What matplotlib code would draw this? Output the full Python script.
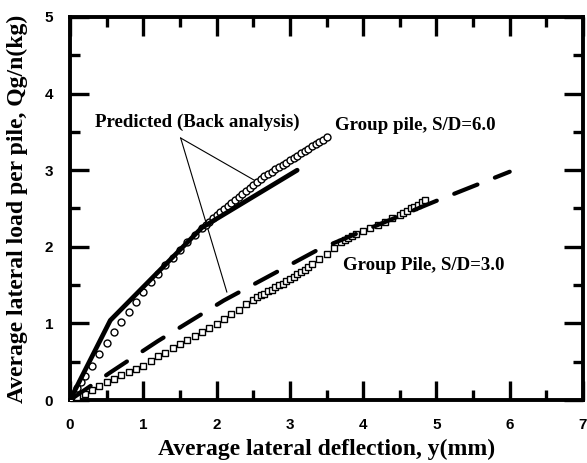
import matplotlib
matplotlib.use("Agg")
import matplotlib.pyplot as plt
from matplotlib.ticker import MultipleLocator

# ---- data ----
sd6_x = [0.0, 0.05, 0.1, 0.15, 0.2, 0.3, 0.4, 0.5, 0.6, 0.7, 0.8, 0.9, 1.0, 1.1,
         1.2, 1.3, 1.4, 1.5, 1.6, 1.7, 1.8, 1.85, 1.9, 1.95, 2.0, 2.05, 2.1, 2.15, 2.2,
         2.25, 2.3, 2.35, 2.4, 2.45, 2.5, 2.55, 2.6, 2.65, 2.7, 2.75, 2.8, 2.85,
         2.9, 2.95, 3.0, 3.05, 3.1, 3.15, 3.2, 3.25, 3.3, 3.35, 3.4, 3.45, 3.5]
sd6_y = [0.0, 0.08, 0.16, 0.24, 0.31, 0.45, 0.6, 0.75, 0.89, 1.02, 1.15, 1.28, 1.41, 1.54,
         1.65, 1.76, 1.86, 1.96, 2.06, 2.15, 2.25, 2.29, 2.33, 2.37, 2.41, 2.45, 2.49, 2.53, 2.57,
         2.61, 2.65, 2.69, 2.73, 2.77, 2.81, 2.85, 2.89, 2.92, 2.95, 2.98, 3.01, 3.04,
         3.07, 3.1, 3.13, 3.16, 3.19, 3.22, 3.25, 3.28, 3.31, 3.34, 3.37, 3.4, 3.43]

sd3_x = [0.0, 0.1, 0.2, 0.3, 0.4, 0.5, 0.6, 0.7, 0.8, 0.9, 1.0, 1.1, 1.2, 1.3, 1.4,
         1.5, 1.6, 1.7, 1.8, 1.9, 2.0, 2.1, 2.2, 2.3, 2.4, 2.5, 2.55, 2.6, 2.65, 2.7,
         2.75, 2.8, 2.85, 2.9, 2.95, 3.0, 3.05, 3.1, 3.15, 3.2, 3.25, 3.3, 3.4, 3.5,
         3.6, 3.7, 3.75, 3.8, 3.85, 3.9, 4.0, 4.1, 4.2, 4.3, 4.4, 4.5, 4.55, 4.6,
         4.65, 4.7, 4.75, 4.8, 4.85]
sd3_y = [0.0, 0.04, 0.08, 0.13, 0.18, 0.23, 0.28, 0.32, 0.37, 0.41, 0.45, 0.51, 0.57, 0.62, 0.68,
         0.73, 0.78, 0.84, 0.89, 0.94, 0.99, 1.06, 1.12, 1.18, 1.25, 1.31, 1.34, 1.37, 1.39, 1.42,
         1.44, 1.47, 1.5, 1.52, 1.55, 1.58, 1.61, 1.64, 1.67, 1.7, 1.73, 1.77, 1.84, 1.91,
         1.98, 2.06, 2.09, 2.12, 2.14, 2.17, 2.21, 2.25, 2.29, 2.33, 2.37, 2.42, 2.44, 2.47,
         2.5, 2.52, 2.55, 2.58, 2.61]

pred6_x = [0.0, 0.55, 1.8, 3.1]
pred6_y = [0.0, 1.04, 2.25, 3.0]

pred3_x = [0.0, 0.55, 1.2, 2.1, 3.4, 5.0, 6.0]
pred3_y = [0.0, 0.36, 0.77, 1.3, 1.97, 2.6, 2.98]

xticks = [0, 1, 2, 3, 4, 5, 6, 7]
yticks = [0, 1, 2, 3, 4, 5]

# ---- figure ----
fig = plt.figure(figsize=(5.87, 4.63), dpi=100)
ax = fig.add_axes([70/587, 63/463, (583-70)/587, (400-17)/463])

ax.plot(sd6_x, sd6_y, linestyle='none', marker='o', markersize=5,
        markerfacecolor='white', markeredgecolor='black', markeredgewidth=1.0, zorder=3)
ax.plot(sd3_x, sd3_y, linestyle='none', marker='s', markersize=5,
        markerfacecolor='white', markeredgecolor='black', markeredgewidth=1.0, zorder=3)
ax.plot(pred6_x, pred6_y, color='black', linewidth=3.4, solid_capstyle='round', zorder=4)
ax.plot(pred3_x, pred3_y, color='black', linewidth=3.0, dashes=(6, 4.5),
        dash_capstyle='round', zorder=4)

ax.set_xlim(0, 7)
ax.set_ylim(0, 5)
ax.xaxis.set_minor_locator(MultipleLocator(0.5))
ax.yaxis.set_minor_locator(MultipleLocator(0.5))
ax.set_xticks(xticks)
ax.set_yticks(yticks)
ax.tick_params(which='major', direction='in', length=14, width=2.4,
               top=True, right=True)
ax.tick_params(which='minor', direction='in', length=7, width=2.4,
               top=True, right=True)
ax.tick_params(axis='y', pad=12)
ax.tick_params(axis='x', pad=13)
for s in ax.spines.values():
    s.set_linewidth(2.8)

for lab in ax.get_xticklabels() + ax.get_yticklabels():
    lab.set_fontfamily('Liberation Sans')
    lab.set_fontweight('bold')
    lab.set_fontsize(11)

serif = 'Liberation Serif'
ax.set_xlabel('Average lateral deflection, y(mm)', fontfamily=serif,
              fontweight='bold', fontsize=17, labelpad=5)
ax.set_ylabel('Average lateral load per pile, Qg/n(kg)', fontfamily=serif,
              fontweight='bold', fontsize=17, labelpad=12)

ax.text(0.34, 3.62, 'Predicted (Back analysis)', fontfamily=serif,
        fontweight='bold', fontsize=13.6, va='center', ha='left')
ax.text(3.61, 3.59, 'Group pile, S/D=6.0', fontfamily=serif,
        fontweight='bold', fontsize=13.6, va='center', ha='left')
ax.text(3.72, 1.76, 'Group Pile, S/D=3.0', fontfamily=serif,
        fontweight='bold', fontsize=13.6, va='center', ha='left')

ax.plot([1.51, 2.55], [3.42, 2.85], color='black', linewidth=0.8)
ax.plot([1.51, 2.14], [3.42, 1.41], color='black', linewidth=0.8)

fig.savefig('out.png', dpi=100)
